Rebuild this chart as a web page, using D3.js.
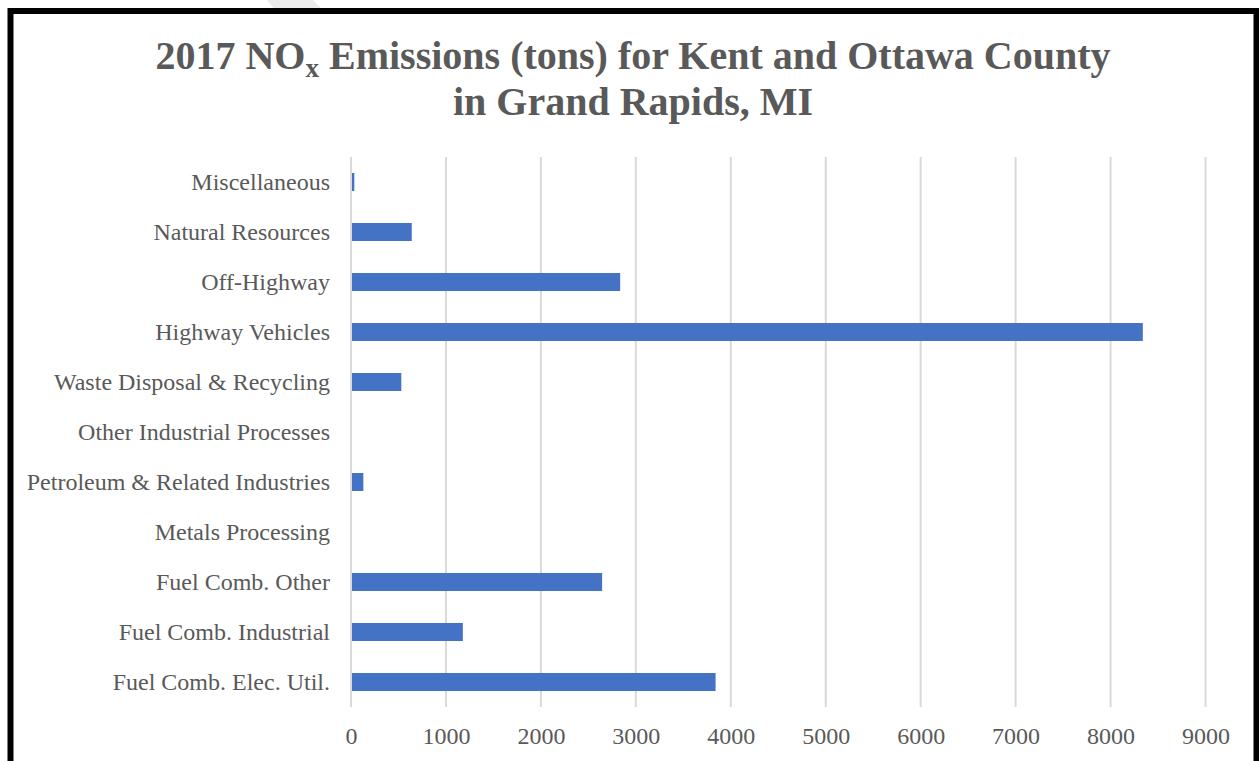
<!DOCTYPE html>
<html>
<head>
<meta charset="utf-8">
<script src="https://cdn.jsdelivr.net/npm/d3@7"></script>
<style>
  body { margin: 0; background: #fff; }
  text { font-family: "Liberation Serif", "Times New Roman", serif; fill: #595959; }
</style>
</head>
<body>
<div id="chart"></div>
<script>
var svgWidth = 1259;
var svgHeight = 761;

// categories, top to bottom as shown
var categories = [
  "Miscellaneous",
  "Natural Resources",
  "Off-Highway",
  "Highway Vehicles",
  "Waste Disposal & Recycling",
  "Other Industrial Processes",
  "Petroleum & Related Industries",
  "Metals Processing",
  "Fuel Comb. Other",
  "Fuel Comb. Industrial",
  "Fuel Comb. Elec. Util."
];
// NOx emissions (tons)
var emissions = [35, 640, 2835, 8340, 530, 0, 130, 0, 2645, 1178, 3840];
var xTicks = [0, 1000, 2000, 3000, 4000, 5000, 6000, 7000, 8000, 9000];

var margin = { top: 157, right: 53.5, bottom: 54, left: 351 };
var chartWidth = svgWidth - margin.left - margin.right;
var chartHeight = svgHeight - margin.top - margin.bottom;

var svg = d3.select("#chart")
  .append("svg")
  .attr("width", svgWidth)
  .attr("height", svgHeight);

// faint watermark shape at the top
svg.append("polygon")
  .attr("points", "267,0 313,0 324,11 276,11")
  .attr("fill", "#ebebeb");

// black frame
svg.append("rect")
  .attr("x", 10.5)
  .attr("y", 11)
  .attr("width", 1246)
  .attr("height", 780)
  .attr("fill", "none")
  .attr("stroke", "#000")
  .attr("stroke-width", 6);

// title
var title = svg.append("text")
  .attr("x", 633)
  .attr("y", 69)
  .attr("text-anchor", "middle")
  .style("font-size", "40px")
  .style("font-weight", "bold");
title.append("tspan").text("2017 NO");
title.append("tspan").attr("dy", 8).style("font-size", "27px").text("x");
title.append("tspan").attr("dy", -8).text(" Emissions (tons) for Kent and Ottawa County");

svg.append("text")
  .attr("x", 633)
  .attr("y", 115)
  .attr("text-anchor", "middle")
  .style("font-size", "40px")
  .style("font-weight", "bold")
  .text("in Grand Rapids, MI");

var chartGroup = svg.append("g")
  .attr("transform", `translate(${margin.left}, ${margin.top})`);

var xLinearScale = d3.scaleLinear()
  .domain([0, 9000])
  .range([0, chartWidth]);

var yBandScale = d3.scaleBand()
  .domain(categories)
  .range([0, chartHeight])
  .paddingInner(0.64)
  .paddingOuter(0.32);

// gridlines
chartGroup.selectAll(".grid")
  .data(xTicks)
  .enter()
  .append("line")
  .attr("class", "grid")
  .attr("x1", d => xLinearScale(d))
  .attr("x2", d => xLinearScale(d))
  .attr("y1", 0)
  .attr("y2", chartHeight)
  .attr("stroke", "#d9d9d9")
  .attr("stroke-width", 2);

// bars
chartGroup.selectAll(".bar")
  .data(emissions)
  .enter()
  .append("rect")
  .attr("class", "bar")
  .attr("x", xLinearScale(0) + 1)
  .attr("y", (d, i) => yBandScale(categories[i]))
  .attr("width", d => Math.max(0, xLinearScale(d) - xLinearScale(0) - 1))
  .attr("height", yBandScale.bandwidth())
  .attr("fill", "#4472c4");

// category axis
var leftAxis = d3.axisLeft(yBandScale).tickSize(0).tickPadding(21);
var yAxis = chartGroup.append("g").call(leftAxis);
yAxis.select(".domain").remove();
yAxis.selectAll("text")
  .style("font-size", "24px")
  .attr("fill", "#595959");

// value axis
var bottomAxis = d3.axisBottom(xLinearScale)
  .tickValues(xTicks)
  .tickFormat(d3.format("d"))
  .tickSize(0)
  .tickPadding(20);
var xAxis = chartGroup.append("g")
  .attr("transform", `translate(0, ${chartHeight})`)
  .call(bottomAxis);
xAxis.select(".domain").remove();
xAxis.selectAll("text")
  .style("font-size", "24px")
  .attr("fill", "#595959");
</script>
</body>
</html>
